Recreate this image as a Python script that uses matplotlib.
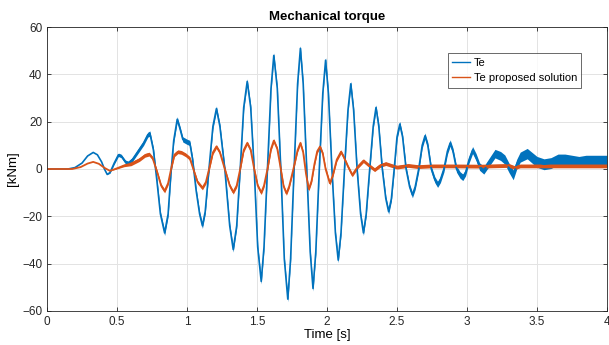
import numpy as np
import matplotlib.pyplot as plt

plt.rcParams['font.family'] = ['Liberation Sans', 'DejaVu Sans']

# Te (blue), values
t_te = [0.0, 0.15, 0.20, 0.25, 0.29, 0.33, 0.36, 0.39, 0.41, 0.43, 0.45, 0.48, 0.51,
        0.53, 0.56, 0.58, 0.61, 0.65, 0.69, 0.72, 0.735, 0.76, 0.785, 0.81, 0.84,
        0.865, 0.885, 0.905, 0.93, 0.95, 0.97, 1.00, 1.02, 1.04, 1.065, 1.09, 1.11,
        1.13, 1.16, 1.185, 1.21, 1.235, 1.27, 1.305, 1.33, 1.355, 1.38, 1.405, 1.43,
        1.455, 1.48, 1.505, 1.53, 1.55, 1.575, 1.60, 1.62, 1.645, 1.67, 1.695, 1.72,
        1.74, 1.765, 1.79, 1.81, 1.83, 1.855, 1.88, 1.90, 1.92, 1.945, 1.97, 1.99,
        2.01, 2.035, 2.06, 2.08, 2.10, 2.125, 2.15, 2.17, 2.19, 2.215, 2.24, 2.26,
        2.28, 2.305, 2.33, 2.35, 2.37, 2.395, 2.42, 2.44, 2.46, 2.48, 2.50, 2.52,
        2.54, 2.565, 2.59, 2.61, 2.63, 2.655, 2.68, 2.70, 2.72, 2.745, 2.77, 2.79,
        2.81, 2.835, 2.86, 2.88, 2.90, 2.925, 2.95, 2.97, 2.99, 3.015, 3.04, 3.065,
        3.09, 3.12, 3.16, 3.20, 3.24, 3.27, 3.30, 3.33, 3.355, 3.38, 3.43, 3.47,
        3.50, 3.55, 3.60, 3.65, 3.70, 3.75, 3.80, 3.85, 3.90, 3.95, 4.0]
te = [0, 0, 0.6, 2.5, 5.5, 7, 6, 3, 0, -2.3, -1.5, 2.5, 6,
      5.5, 3, 2.5, 4, 7.5, 11, 14.5, 15, 8, -5, -19, -27,
      -19, -2, 12, 21, 17, 12.5, 11.5, 11, 4, -9, -19, -24,
      -18, 2, 18, 25.5, 18, 0, -24, -34, -24, 0, 26, 37,
      26, 0, -33, -47.5, -33, 0, 34, 48, 34, 0, -38, -55,
      -38, 0, 36, 51, 36, 0, -35, -50.5, -35, 0, 32, 46,
      32, 0, -27, -38.5, -27, 0, 25, 36, 25, 0, -19, -27,
      -19, 0, 18, 26, 18, 0, -12.5, -18, -12.5, 0, 13.5, 19,
      13.5, 0, -7.5, -11, -7.5, 0, 10, 14, 10, 0, -4.5, -6.5,
      -4.5, 0, 7.5, 11, 7.5, 0, -2.5, -3.5, -1.5, 4, 8, 5,
      1, -0.5, 3, 6.5, 5.5, 4, 0.5, -2.5, 2, 5, 6.5, 4.5,
      3, 2, 2.5, 4, 4, 3.5, 3, 3.5, 3.5, 3.5, 3.5]
# half height of the fast ripple band on Te (read at a few times)
ripple_t = [0.0, 0.42, 0.50, 0.75, 2.5, 3.0, 3.3, 3.5, 4.0]
ripple_te = [0.0, 0.0, 0.7, 1.1, 1.1, 1.4, 2.0, 2.3, 2.3]

# Te proposed solution (orange)
t_ps = [0.0, 0.18, 0.24, 0.29, 0.33, 0.37, 0.41, 0.45, 0.50, 0.55, 0.60, 0.66, 0.70,
        0.73, 0.755, 0.785, 0.815, 0.84, 0.865, 0.89, 0.91, 0.935, 0.96, 0.99, 1.02,
        1.045, 1.075, 1.11, 1.135, 1.16, 1.185, 1.21, 1.235, 1.27, 1.305, 1.33, 1.355,
        1.38, 1.405, 1.43, 1.455, 1.48, 1.505, 1.53, 1.55, 1.575, 1.60, 1.62, 1.645,
        1.67, 1.69, 1.71, 1.73, 1.76, 1.79, 1.81, 1.83, 1.85, 1.87, 1.89, 1.91, 1.93,
        1.95, 1.97, 1.99, 2.02, 2.04, 2.07, 2.10, 2.12, 2.15, 2.18, 2.22, 2.26, 2.30,
        2.34, 2.38, 2.42, 2.46, 2.50, 2.58, 2.65, 2.75, 2.90, 3.10, 3.30, 3.34, 3.38,
        3.60, 4.0]
ps = [0, 0, 0.8, 2.3, 3, 2.2, 0.5, -0.8, 0.3, 1.5, 2.2, 4, 5.8,
      6.3, 4.5, -1, -7, -9.3, -6, 1, 6, 7.3, 7, 6, 4.5,
      0, -5.5, -8, -5.5, 0.5, 7, 9.5, 7, 0, -7, -9.8, -7,
      0, 8, 11, 8, 0, -7, -10, -7, 0, 8.5, 12, 8.5,
      0, -7.3, -10.3, -7.3, 0, 8, 11, 7, -2, -8.5, -5, 2, 7.5,
      9.5, 6.5, 0, -6, -3, 4, 7.3, 5, 1, -2.5, 1, 3.5, 1.5,
      -0.3, 1.5, 2.3, 1.5, 0.8, 1.5, 1.0, 1.3, 1.3, 1.2, 1.5, 0.6, 1.3,
      1.3, 1.3]
ripple_ps_t = [0.0, 0.45, 0.6, 4.0]
ripple_ps = [0.0, 0.0, 0.8, 0.8]

blue = '#0072BD'
orange = '#D95319'

t_te, te = np.array(t_te), np.array(te)
t_ps, ps = np.array(t_ps), np.array(ps)
r_te = np.interp(t_te, ripple_t, ripple_te)
r_ps = np.interp(t_ps, ripple_ps_t, ripple_ps)

fig = plt.figure(figsize=(6.09, 3.45), dpi=100)
ax = fig.add_axes([0.0772, 0.0986, 0.9195, 0.8231])

ax.fill_between(t_te, te - r_te, te + r_te, color=blue, lw=0)
ax.plot(t_te, te, color=blue, lw=1.2, label='Te')
ax.fill_between(t_ps, ps - r_ps, ps + r_ps, color=orange, lw=0)
ax.plot(t_ps, ps, color=orange, lw=1.3, label='Te proposed solution')

ax.set_xlim(0, 4)
ax.set_ylim(-60, 60)
ax.set_xticks(np.arange(0, 4.01, 0.5))
ax.set_xticklabels(['0', '0.5', '1', '1.5', '2', '2.5', '3', '3.5', '4'])
ax.set_yticks(np.arange(-60, 61, 20))
ax.grid(True, color='#e3e3e3', lw=0.7)
ax.set_axisbelow(True)
ax.tick_params(direction='in', length=3, labelsize=8.5, colors='#262626',
               top=True, right=True, width=0.6)
for s in ax.spines.values():
    s.set_color('#262626')
    s.set_linewidth(0.6)

ax.set_title('Mechanical torque', fontsize=9.5, fontweight='bold', pad=5)
ax.set_xlabel('Time [s]', fontsize=9.5, labelpad=1)
ax.set_ylabel('[kNm]', fontsize=9.5, labelpad=2)

leg = ax.legend(loc='upper left', bbox_to_anchor=(0.716, 0.908), fontsize=8,
                frameon=True, fancybox=False, edgecolor='#262626',
                handlelength=1.6, handletextpad=0.3, borderpad=0.4,
                labelspacing=0.5, borderaxespad=0)
leg.get_frame().set_linewidth(0.6)
for h in leg.get_lines():
    h.set_linewidth(1.0)

fig.savefig('out.png', dpi=100)
